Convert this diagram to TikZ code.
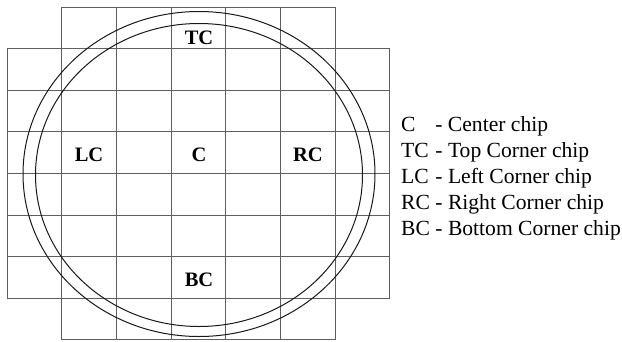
\documentclass[tikz,border=0pt]{standalone}
\usepackage{fontspec}
\setmainfont{Liberation Serif}
\usepackage{tikz}
\usetikzlibrary{positioning}
\definecolor{WaferGrid}{RGB}{95,95,95}
\definecolor{WaferEdge}{RGB}{25,25,25}
\tikzset{
  gridline/.style={draw=WaferGrid, line width=0.9pt},
  waferring/.style={draw=WaferEdge, line width=1pt},
  chiplabel/.style={font=\fontsize{20.5}{24}\selectfont\bfseries, inner sep=0pt},
  legendtext/.style={font=\fontsize{21.6}{26}\selectfont, inner sep=0pt, anchor=base west}
}

\begin{document}
\begin{tikzpicture}[x=1pt, y=-1pt]
  \useasboundingbox (0,0) rectangle (622,341);
  % chip grid: 7 columns, 8 rows
  \foreach \j in {1,...,7}
    \draw[gridline] (7,{7+41.6*\j}) -- (390,{7+41.6*\j});
  \foreach \j in {0,8}
    \draw[gridline] (61.7,{7+41.6*\j}) -- (335.2,{7+41.6*\j});
  \foreach \i in {1,...,6}
    \draw[gridline] ({7+54.7*\i},7) -- ({7+54.7*\i},339.8);
  \foreach \i in {0,7}
    \draw[gridline] ({7+54.7*\i},48.6) -- ({7+54.7*\i},298.2);
  % wafer rings
  \draw[waferring] (199,174) ellipse [x radius=176, y radius=162.5];
  \draw[waferring] (199,175) ellipse [x radius=163.5, y radius=151.5];
  % chip labels
  \node[chiplabel] (tc) at (199,38) {TC};
  \node[chiplabel] (cc) at (199,155) {C};
  \node[chiplabel] (lc) at (89,155) {LC};
  \node[chiplabel] (rc) at (308,155) {RC};
  \node[chiplabel] (bc) at (199,280) {BC};
  % legend
  \node[legendtext] (legend) at (401,131) {\begin{tabular}[t]{@{}l@{ }l@{}}
    C & - Center chip\\
    TC & - Top Corner chip\\
    LC & - Left Corner chip\\
    RC & - Right Corner chip\\
    BC & - Bottom Corner chip
  \end{tabular}};
\end{tikzpicture}
\end{document}
